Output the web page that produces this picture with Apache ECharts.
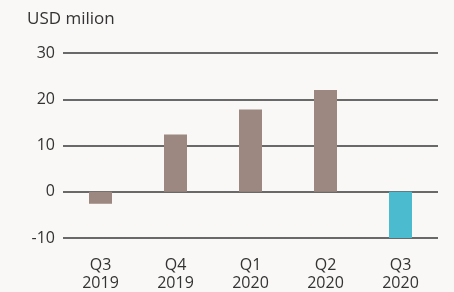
<!DOCTYPE html>
<html><head><meta charset="utf-8">
<script src="https://cdn.jsdelivr.net/npm/echarts@6/dist/echarts.min.js"></script>
<style>html,body{margin:0;padding:0;background:#f9f8f6;}#c{width:454px;height:292px;}</style>
</head><body><div id="c"></div>
<script>
const categories = ['Q3\n2019','Q4\n2019','Q1\n2020','Q2\n2020','Q3\n2020'];
const values = [-2.6, 12.4, 17.8, 22.0, -10.0];
const barColors = ['#9c8880','#9c8880','#9c8880','#9c8880','#4bbccf'];
const F = 'Open Sans';
const chart = echarts.init(document.getElementById('c'));
chart.setOption({
  backgroundColor:'#f9f8f6',
  animation:false,
  title:{text:'USD milion',left:22,top:6,textStyle:{fontFamily:F,fontWeight:'normal',fontSize:17,color:'#333'}},
  grid:{left:63,right:16,top:53,bottom:54},
  xAxis:{type:'category',data:categories,axisLine:{show:false},axisTick:{show:false},
    axisLabel:{fontFamily:F,fontSize:16,color:'#333',lineHeight:18,margin:18}},
  yAxis:{type:'value',min:-10,max:30,interval:10,
    axisLabel:{fontFamily:F,fontSize:16,color:'#333',margin:8},
    axisLine:{show:false},axisTick:{show:false},
    splitLine:{lineStyle:{color:'#3a3a3a',width:1.5}}},
  series:[{type:'bar',barWidth:23,
    data:values.map((v,i)=>({value:v,itemStyle:{color:barColors[i]}}))}]
});
</script></body></html>
